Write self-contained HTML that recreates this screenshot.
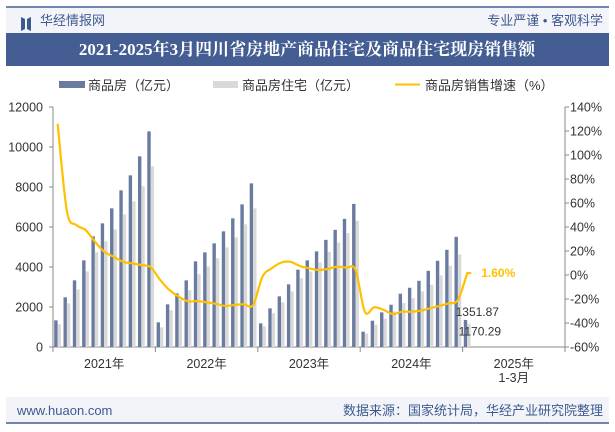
<!DOCTYPE html>
<html><head><meta charset="utf-8"><style>
body{margin:0;width:615px;height:427px;background:#fff;overflow:hidden;font-family:"Liberation Sans","Noto Sans CJK SC",sans-serif}
</style></head><body>
<svg width="615" height="427" viewBox="0 0 615 427" xmlns="http://www.w3.org/2000/svg" font-family="Liberation Sans, Noto Sans CJK SC, sans-serif">
<rect x="6" y="7" width="603" height="26" fill="#f3f4f9"/>
<line x1="6" y1="7" x2="609" y2="7" stroke="#445e93" stroke-width="1.5"/>
<path d="M21 17 l4 2 v10 l-4 2z M27 19 l4 -2 v14 l-4 -2z" fill="#3d5a8e"/>
<text x="40" y="25" font-size="13" fill="#3d5a8e">华经情报网</text>
<text x="603" y="25" font-size="13" fill="#3d5a8e" text-anchor="end">专业严谨 • 客观科学</text>
<rect x="6" y="33" width="603" height="33" fill="#445e93"/>
<text x="307" y="55" font-size="17" font-weight="bold" fill="#fff" text-anchor="middle" font-family="Liberation Serif, Noto Serif CJK SC, serif">2021-2025年3月四川省房地产商品住宅及商品住宅现房销售额</text>
<g>
<rect x="59" y="81" width="26" height="7" fill="#6a7ba0"/>
<text x="88" y="90" font-size="13" fill="#333">商品房（亿元）</text>
<rect x="213" y="81" width="25" height="7" fill="#d9d9d9"/>
<text x="242" y="90" font-size="13" fill="#333">商品房住宅（亿元）</text>
<line x1="395" y1="84.5" x2="420" y2="84.5" stroke="#ffc000" stroke-width="2"/>
<text x="425" y="90" font-size="13" fill="#333">商品房销售增速（%）</text>
</g>
<g id="plot"></g>
<rect x="6" y="397" width="603" height="26" fill="#f3f4f9"/>
<line x1="6" y1="423" x2="609" y2="423" stroke="#445e93" stroke-width="1.5"/>
<text x="17" y="415" font-size="13" fill="#3d5a8e">www.huaon.com</text>
<text x="603" y="415" font-size="13" fill="#3d5a8e" text-anchor="end">数据来源：国家统计局，华经产业研究院整理</text>
</svg>
<script>
const years=['2021年','2022年','2023年','2024年','2025年'];
const commercial=[1333,2483,3333,4333,5533,6183,6933,7833,8583,9533,10783,
1233,2133,2683,3333,4283,4733,5183,5783,6433,7133,8183,
1183,1933,2533,3133,3866,4333,4783,5358,5858,6406,7155,
765,1315,1731,2113,2663,2962,3311,3810,4310,4859,5508,
1351.87];
const residential=[1133,2183,2883,3783,4733,5283,5883,6633,7283,8033,9033,
983,1833,2383,2833,3633,4033,4433,4983,5483,6133,6933,
1033,1683,2233,2783,3444,3777,4226,4760,5225,5690,6306,
666,1115,1414,1780,2197,2446,2779,3112,3578,4060,4626,
1170.29];
const growth=[126,53,41.7,37.5,27.8,19.4,15.3,11,9.7,8.3,6.4,
-4,-12.5,-18,-22,-21.7,-22.8,-24,-25.8,-25,-24.4,-25,
-1.4,5.6,10.3,11,7.5,5.6,4.2,5,6.9,6,4.2,
-30.6,-26.9,-29,-32.5,-30.6,-30.6,-29.7,-27.8,-25.8,-23.6,-20.8,
1.6];
const leftTicks=[0,2000,4000,6000,8000,10000,12000];
const rightTicks=[-60,-40,-20,0,20,40,60,80,100,120,140];
const NS='http://www.w3.org/2000/svg';
const g=document.getElementById('plot');
const X0=53,X1=565,Y0=347,Y1=107,slots=55,sw=(X1-X0)/slots;
const yL=v=>Y0-(v/12000)*(Y0-Y1);
const yR=v=>Y0-((v+60)/200)*(Y0-Y1);
const xS=i=>X0+i*sw;
function mk(t,a,p){const e=document.createElementNS(NS,t);for(const k in a)e.setAttribute(k,a[k]);(p||g).appendChild(e);return e;}
// axes
let e=mk('line',{x1:X0,y1:Y1,x2:X0,y2:Y0,stroke:'#888'});


e=mk('line',{x1:X1,y1:Y1,x2:X1,y2:Y0,stroke:'#888'});


e=mk('line',{x1:X0,y1:Y0,x2:X1,y2:Y0,stroke:'#888'});


leftTicks.forEach(v=>{mk('line',{x1:X0-4,x2:X0,y1:yL(v),y2:yL(v),stroke:'#888'});
const t=mk('text',{x:43,y:yL(v)+4.5,'font-size':12.5,fill:'#333','text-anchor':'end'});t.textContent=v;

});
rightTicks.forEach(v=>{mk('line',{x1:X1,x2:X1+4,y1:yR(v),y2:yR(v),stroke:'#888'});
const t=mk('text',{x:570,y:yR(v)+4.5,'font-size':12.5,fill:'#333'});t.textContent=v+'%';

});
years.forEach((y,k)=>{const gx=X0+k*11*sw;mk('line',{x1:gx,x2:gx,y1:Y0,y2:Y0+5,stroke:'#888'});
const t=mk('text',{x:gx+5.5*sw,y:368,'font-size':12.5,fill:'#333','text-anchor':'middle'});t.textContent=y;

});
mk('line',{x1:X1,x2:X1,y1:Y0,y2:Y0+5,stroke:'#888'});
let t2=mk('text',{x:X0+49.5*sw,y:382,'font-size':12.5,fill:'#333','text-anchor':'middle'});t2.textContent='1-3月';


commercial.forEach((v,i)=>{const b=mk('rect',{x:xS(i)+1.2,y:yL(v),width:3.4,height:Y0-yL(v),fill:'#6a7ba0'});

});
residential.forEach((v,i)=>{const b=mk('rect',{x:xS(i)+4.6,y:yL(v),width:3.4,height:Y0-yL(v),fill:'#d9d9d9'});

});
// smooth line
const pts=growth.map((v,i)=>[xS(i)+sw/2,yR(v)]);
let d='M'+pts[0][0]+' '+pts[0][1];
for(let i=0;i<pts.length-1;i++){const p0=pts[Math.max(0,i-1)],p1=pts[i],p2=pts[i+1],p3=pts[Math.min(pts.length-1,i+2)];
d+=` C${p1[0]+(p2[0]-p0[0])/6} ${p1[1]+(p2[1]-p0[1])/6} ${p2[0]-(p3[0]-p1[0])/6} ${p2[1]-(p3[1]-p1[1])/6} ${p2[0]} ${p2[1]}`;}
const last=pts[pts.length-1];d+=` L${last[0]+4} ${last[1]}`;
const ln=mk('path',{d:d,fill:'none',stroke:'#ffc000','stroke-width':2.2});


const n=commercial.length-1;
let lb=mk('text',{x:last[0]+14,y:last[1]+4,'font-size':12,'font-weight':'bold',fill:'#ffc000'});lb.textContent=growth[n].toFixed(2)+'%';


lb=mk('text',{x:xS(n)-7,y:yL(commercial[n])-4,'font-size':12,fill:'#333'});lb.textContent=commercial[n].toFixed(2);


lb=mk('text',{x:xS(n)-4,y:yL(residential[n])+12,'font-size':12,fill:'#333'});lb.textContent=residential[n].toFixed(2);


</script>
</body></html>
